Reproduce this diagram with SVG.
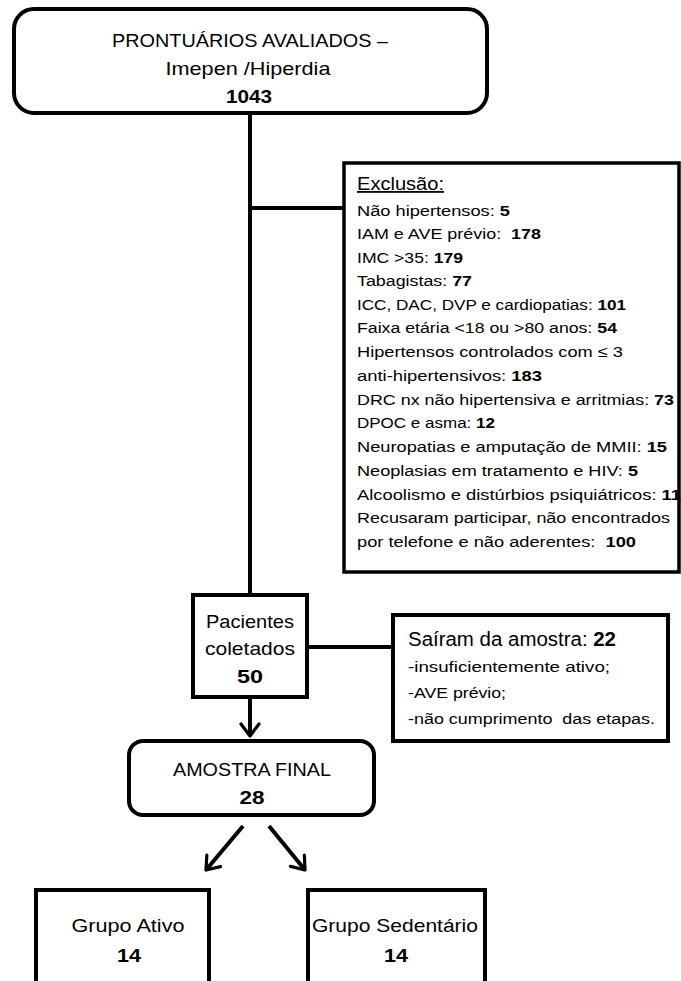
<svg xmlns="http://www.w3.org/2000/svg" width="681" height="981" viewBox="0 0 681 981">
<defs>
<marker id="arr" markerUnits="userSpaceOnUse" markerWidth="30" markerHeight="30" refX="14" refY="10" orient="auto" viewBox="0 0 30 20">
<path d="M2,1 L14,10 L2,19" fill="none" stroke="#000" stroke-width="3.2" stroke-linecap="round" stroke-linejoin="round"/>
</marker>
<style>
.box{fill:#fff;stroke:#000;stroke-width:4}
.thin{fill:#fff;stroke:#000;stroke-width:3.5}
.ln{fill:none;stroke:#000;stroke-width:4}
text{font-family:"Liberation Sans",Arial,sans-serif;fill:#000}
.t{font-size:19px}
.s{font-size:15.5px}
.b{font-weight:bold}
</style>
</defs>
<g id="connectors">
<line class="ln" x1="250" y1="113" x2="250" y2="595"/>
<line class="ln" x1="250" y1="208" x2="345" y2="208"/>
<line class="ln" x1="307" y1="647" x2="393" y2="647"/>
<line class="ln" x1="250" y1="697" x2="250" y2="736" marker-end="url(#arr)"/>
<line class="ln" x1="243" y1="826" x2="206" y2="870" marker-end="url(#arr)"/>
<line class="ln" x1="269" y1="826" x2="305" y2="870" marker-end="url(#arr)"/>
</g>
<g id="node-prontuarios">
<rect class="box" x="14" y="9" width="473" height="104" rx="20"/>
<text class="t" x="250" y="47" text-anchor="middle" textLength="276" lengthAdjust="spacingAndGlyphs">PRONTUÁRIOS AVALIADOS –</text>
<text class="t" x="248" y="75" text-anchor="middle" textLength="165" lengthAdjust="spacingAndGlyphs">Imepen /Hiperdia</text>
<text class="t b" x="249" y="103" text-anchor="middle" textLength="46" lengthAdjust="spacingAndGlyphs">1043</text>
</g>
<g id="node-exclusao">
<rect class="thin" x="344" y="163" width="335" height="409"/>
<text x="357" y="190" font-size="18" textLength="87" lengthAdjust="spacingAndGlyphs" text-decoration="underline">Exclusão:</text>
<text class="s" x="357" y="216" textLength="153" lengthAdjust="spacingAndGlyphs">Não hipertensos: <tspan class="b">5</tspan></text>
<text class="s" x="357" y="239" textLength="184" lengthAdjust="spacingAndGlyphs" xml:space="preserve">IAM e AVE prévio:  <tspan class="b">178</tspan></text>
<text class="s" x="357" y="263" textLength="106" lengthAdjust="spacingAndGlyphs">IMC &gt;35: <tspan class="b">179</tspan></text>
<text class="s" x="357" y="286" textLength="115" lengthAdjust="spacingAndGlyphs">Tabagistas: <tspan class="b">77</tspan></text>
<text class="s" x="357" y="310" textLength="269" lengthAdjust="spacingAndGlyphs">ICC, DAC, DVP e cardiopatias: <tspan class="b">101</tspan></text>
<text class="s" x="357" y="333" textLength="260" lengthAdjust="spacingAndGlyphs">Faixa etária &lt;18 ou &gt;80 anos: <tspan class="b">54</tspan></text>
<text class="s" x="357" y="357" textLength="266" lengthAdjust="spacingAndGlyphs">Hipertensos controlados com ≤ 3</text>
<text class="s" x="357" y="381" textLength="185" lengthAdjust="spacingAndGlyphs">anti-hipertensivos: <tspan class="b">183</tspan></text>
<text class="s" x="357" y="405" textLength="317" lengthAdjust="spacingAndGlyphs">DRC nx não hipertensiva e arritmias: <tspan class="b">73</tspan></text>
<text class="s" x="357" y="428" textLength="138" lengthAdjust="spacingAndGlyphs">DPOC e asma: <tspan class="b">12</tspan></text>
<text class="s" x="357" y="452" textLength="310" lengthAdjust="spacingAndGlyphs">Neuropatias e amputação de MMII: <tspan class="b">15</tspan></text>
<text class="s" x="357" y="476" textLength="281" lengthAdjust="spacingAndGlyphs">Neoplasias em tratamento e HIV: <tspan class="b">5</tspan></text>
<text class="s" x="357" y="500" textLength="324" lengthAdjust="spacingAndGlyphs">Alcoolismo e distúrbios psiquiátricos: <tspan class="b">11</tspan></text>
<text class="s" x="357" y="523" textLength="313" lengthAdjust="spacingAndGlyphs">Recusaram participar, não encontrados</text>
<text class="s" x="357" y="547" textLength="279" lengthAdjust="spacingAndGlyphs" xml:space="preserve">por telefone e não aderentes:  <tspan class="b">100</tspan></text>
</g>
<g id="node-pacientes">
<rect class="box" x="193" y="595" width="114" height="102"/>
<text class="t" x="250" y="628" text-anchor="middle" textLength="88" lengthAdjust="spacingAndGlyphs">Pacientes</text>
<text class="t" x="250" y="655" text-anchor="middle" textLength="90" lengthAdjust="spacingAndGlyphs">coletados</text>
<text class="t b" x="250" y="683" text-anchor="middle" textLength="26" lengthAdjust="spacingAndGlyphs">50</text>
</g>
<g id="node-sairam">
<rect class="box" x="393" y="615" width="275" height="126"/>
<text x="408" y="646" font-size="19.5" textLength="208" lengthAdjust="spacingAndGlyphs">Saíram da amostra: <tspan class="b">22</tspan></text>
<text class="s" x="408" y="672" textLength="202" lengthAdjust="spacingAndGlyphs">-insuficientemente ativo;</text>
<text class="s" x="408" y="698" textLength="98" lengthAdjust="spacingAndGlyphs">-AVE prévio;</text>
<text class="s" x="408" y="724" textLength="247" lengthAdjust="spacingAndGlyphs" xml:space="preserve">-não cumprimento  das etapas.</text>
</g>
<g id="node-amostra">
<rect class="box" x="129" y="741" width="245" height="74" rx="14"/>
<text class="t" x="252" y="776" text-anchor="middle" textLength="158" lengthAdjust="spacingAndGlyphs">AMOSTRA FINAL</text>
<text class="t b" x="252" y="804" text-anchor="middle" textLength="25" lengthAdjust="spacingAndGlyphs">28</text>
</g>
<g id="node-ativo">
<rect class="box" x="36" y="890" width="173" height="110"/>
<text class="t" x="128" y="932" text-anchor="middle" textLength="113" lengthAdjust="spacingAndGlyphs">Grupo Ativo</text>
<text class="t b" x="129" y="962" text-anchor="middle" textLength="24" lengthAdjust="spacingAndGlyphs">14</text>
</g>
<g id="node-sedentario">
<rect class="box" x="308" y="890" width="177" height="110"/>
<text class="t" x="395" y="932" text-anchor="middle" textLength="166" lengthAdjust="spacingAndGlyphs">Grupo Sedentário</text>
<text class="t b" x="396" y="962" text-anchor="middle" textLength="24" lengthAdjust="spacingAndGlyphs">14</text>
</g>
</svg>
